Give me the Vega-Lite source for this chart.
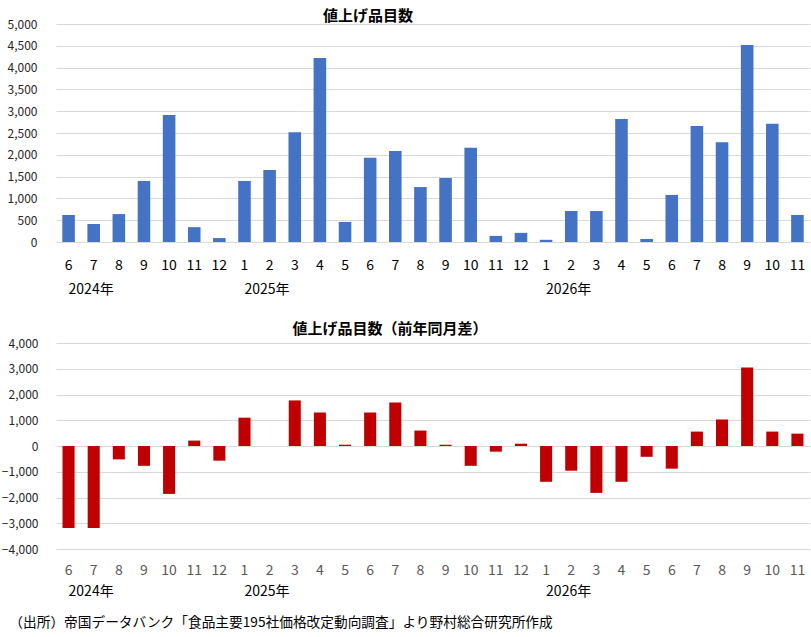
{
  "$schema": "https://vega.github.io/schema/vega-lite/v6.json",
  "background": "white",
  "padding": {"left": 1, "top": 9, "right": 3, "bottom": 4},
  "config": {
    "view": {"stroke": null},
    "font": "Noto Sans CJK JP",
    "axis": {"labelFont": "Noto Sans CJK JP"}
  },
  "datasets": {
    "count": [
      {"ym": "2024-06", "v": 620}, {"ym": "2024-07", "v": 410}, {"ym": "2024-08", "v": 640},
      {"ym": "2024-09", "v": 1400}, {"ym": "2024-10", "v": 2910}, {"ym": "2024-11", "v": 340},
      {"ym": "2024-12", "v": 90}, {"ym": "2025-01", "v": 1400}, {"ym": "2025-02", "v": 1650},
      {"ym": "2025-03", "v": 2520}, {"ym": "2025-04", "v": 4220}, {"ym": "2025-05", "v": 460},
      {"ym": "2025-06", "v": 1930}, {"ym": "2025-07", "v": 2090}, {"ym": "2025-08", "v": 1260},
      {"ym": "2025-09", "v": 1470}, {"ym": "2025-10", "v": 2160}, {"ym": "2025-11", "v": 140},
      {"ym": "2025-12", "v": 210}, {"ym": "2026-01", "v": 50}, {"ym": "2026-02", "v": 710},
      {"ym": "2026-03", "v": 710}, {"ym": "2026-04", "v": 2820}, {"ym": "2026-05", "v": 70},
      {"ym": "2026-06", "v": 1080}, {"ym": "2026-07", "v": 2660}, {"ym": "2026-08", "v": 2290},
      {"ym": "2026-09", "v": 4520}, {"ym": "2026-10", "v": 2710}, {"ym": "2026-11", "v": 620}
    ],
    "diff": [
      {"ym": "2024-06", "v": -3180}, {"ym": "2024-07", "v": -3180}, {"ym": "2024-08", "v": -520},
      {"ym": "2024-09", "v": -770}, {"ym": "2024-10", "v": -1860}, {"ym": "2024-11", "v": 210},
      {"ym": "2024-12", "v": -570}, {"ym": "2025-01", "v": 1100}, {"ym": "2025-02", "v": 0},
      {"ym": "2025-03", "v": 1770}, {"ym": "2025-04", "v": 1300}, {"ym": "2025-05", "v": 50},
      {"ym": "2025-06", "v": 1300}, {"ym": "2025-07", "v": 1690}, {"ym": "2025-08", "v": 600},
      {"ym": "2025-09", "v": 50}, {"ym": "2025-10", "v": -770}, {"ym": "2025-11", "v": -220},
      {"ym": "2025-12", "v": 90}, {"ym": "2026-01", "v": -1390}, {"ym": "2026-02", "v": -960},
      {"ym": "2026-03", "v": -1820}, {"ym": "2026-04", "v": -1390}, {"ym": "2026-05", "v": -420},
      {"ym": "2026-06", "v": -880}, {"ym": "2026-07", "v": 560}, {"ym": "2026-08", "v": 1030},
      {"ym": "2026-09", "v": 3050}, {"ym": "2026-10", "v": 560}, {"ym": "2026-11", "v": 480}
    ]
  },
  "title": {
    "text": "（出所）帝国データバンク「食品主要195社価格改定動向調査」より野村総合研究所作成",
    "orient": "bottom",
    "anchor": "start",
    "frame": "bounds",
    "font": "Noto Sans CJK JP",
    "fontSize": 13.7,
    "fontWeight": "normal",
    "color": "#000000",
    "offset": 18,
    "dx": 8
  },
  "spacing": 26,
  "vconcat": [
    {
      "width": 754,
      "height": 218,
      "data": {"name": "count"},
      "title": {
        "text": "値上げ品目数",
        "fontSize": 15,
        "fontWeight": "bold",
        "color": "#000000",
        "anchor": "middle",
        "dx": -65,
        "offset": -6
      },
      "resolve": {"axis": {"x": "independent"}},
      "layer": [
        {
          "mark": {"type": "bar", "color": "#4472C4"},
          "encoding": {
            "x": {
              "field": "ym", "type": "ordinal",
              "scale": {"paddingInner": 0.5, "paddingOuter": 0.25},
              "axis": {
                "orient": "bottom",
                "title": null, "ticks": false, "domain": false, "grid": false,
                "labelAngle": 0, "labelFontSize": 14, "labelColor": "#000000",
                "labelPadding": 16, "labelOverlap": false,
                "labelExpr": "'' + toNumber(slice(datum.value, 5))"
              }
            },
            "y": {
              "field": "v", "type": "quantitative",
              "scale": {"domain": [0, 5000], "nice": false},
              "axis": {
                "title": null, "values": [0, 500, 1000, 1500, 2000, 2500, 3000, 3500, 4000, 4500, 5000],
                "format": ",d", "ticks": false, "domain": false, "labelOverlap": false,
                "gridColor": "#D9D9D9", "gridWidth": 1,
                "labelFontSize": 12, "labelColor": "#262626", "labelPadding": 19
              }
            }
          }
        },
        {
          "mark": {"type": "bar", "opacity": 0},
          "encoding": {
            "x": {
              "field": "ym", "type": "ordinal",
              "axis": {
                "orient": "bottom", "offset": 40,
                "title": null, "ticks": false, "domain": false, "grid": false,
                "labelAngle": 0, "labelFontSize": 14, "labelColor": "#000000",
                "labelAlign": "left", "labelDx": -5, "labelPadding": 0,
                "labelOverlap": false,
                "labelFont": "Noto Sans CJK JP",
                "labelExpr": "(datum.value == '2024-06' || slice(datum.value, 5) == '01') ? slice(datum.value, 0, 4) + '年' : ''"
              }
            },
            "y": {
              "field": "v", "type": "quantitative",
              "axis": {
                "title": null, "values": [0, 500, 1000, 1500, 2000, 2500, 3000, 3500, 4000, 4500, 5000],
                "format": ",d", "ticks": false, "domain": false, "labelOverlap": false,
                "gridColor": "#D9D9D9", "gridWidth": 1,
                "labelFontSize": 12, "labelColor": "#262626", "labelPadding": 19
              }
            }
          }
        }
      ]
    },
    {
      "width": 754,
      "height": 206,
      "data": {"name": "diff"},
      "title": {
        "text": "値上げ品目数（前年同月差）",
        "fontSize": 15,
        "fontWeight": "bold",
        "color": "#000000",
        "anchor": "middle",
        "dx": -43,
        "offset": 0
      },
      "resolve": {"axis": {"x": "independent"}},
      "layer": [
        {
          "mark": {"type": "bar", "color": "#C00000"},
          "encoding": {
            "x": {
              "field": "ym", "type": "ordinal",
              "scale": {"paddingInner": 0.52, "paddingOuter": 0.26},
              "axis": {
                "orient": "bottom",
                "title": null, "ticks": false, "domain": false, "grid": false,
                "labelAngle": 0, "labelFontSize": 14, "labelColor": "#595959",
                "labelPadding": 14, "labelOverlap": false,
                "labelExpr": "'' + toNumber(slice(datum.value, 5))"
              }
            },
            "y": {
              "field": "v", "type": "quantitative",
              "scale": {"domain": [-4000, 4000], "nice": false},
              "axis": {
                "title": null, "values": [-4000, -3000, -2000, -1000, 0, 1000, 2000, 3000, 4000],
                "format": ",d", "ticks": false, "domain": false, "labelOverlap": false,
                "gridColor": "#D9D9D9", "gridWidth": 1,
                "labelFontSize": 12, "labelColor": "#262626", "labelPadding": 18
              }
            }
          }
        },
        {
          "mark": {"type": "bar", "opacity": 0},
          "encoding": {
            "x": {
              "field": "ym", "type": "ordinal",
              "axis": {
                "orient": "bottom", "offset": 35,
                "title": null, "ticks": false, "domain": false, "grid": false,
                "labelAngle": 0, "labelFontSize": 14, "labelColor": "#000000",
                "labelAlign": "left", "labelDx": -5, "labelPadding": 0,
                "labelOverlap": false,
                "labelFont": "Noto Sans CJK JP",
                "labelExpr": "(datum.value == '2024-06' || slice(datum.value, 5) == '01') ? slice(datum.value, 0, 4) + '年' : ''"
              }
            },
            "y": {
              "field": "v", "type": "quantitative",
              "axis": {
                "title": null, "values": [-4000, -3000, -2000, -1000, 0, 1000, 2000, 3000, 4000],
                "format": ",d", "ticks": false, "domain": false, "labelOverlap": false,
                "gridColor": "#D9D9D9", "gridWidth": 1,
                "labelFontSize": 12, "labelColor": "#262626", "labelPadding": 18
              }
            }
          }
        }
      ]
    }
  ]
}
